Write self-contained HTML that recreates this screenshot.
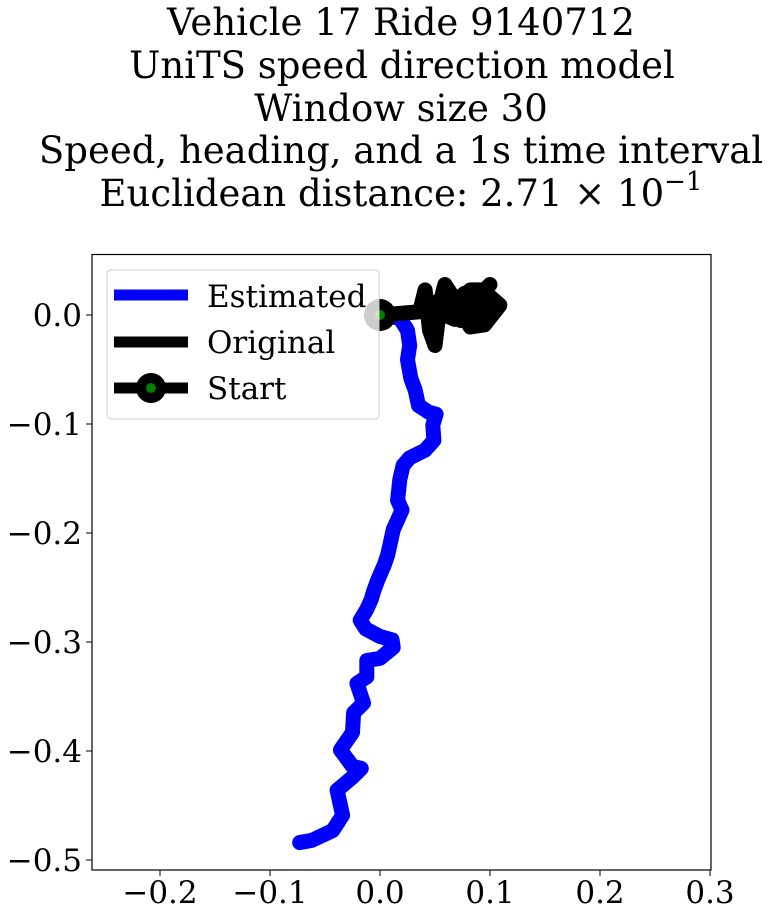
<!DOCTYPE html>
<html><head><meta charset="utf-8"><style>
body{margin:0;background:#fff;}
svg{display:block;font-family:"DejaVu Serif","Liberation Serif",serif;}
</style></head><body>
<svg width="775" height="917" viewBox="0 0 775 917">
<g font-size="37" text-anchor="middle" fill="#000">
<text x="401" y="35">Vehicle 17 Ride 9140712</text>
<text x="402" y="78">UniTS speed direction model</text>
<text x="401" y="121">Window size 30</text>
<text x="401" y="163">Speed, heading, and a 1s time interval</text>
<text x="401" y="206">Euclidean distance: 2.71 × 10<tspan font-size="26" dy="-16">−1</tspan></text>
</g>
<g id="plot"></g>
<rect x="92" y="254.5" width="619" height="615.5" fill="none" stroke="#000" stroke-width="1.2"/>
<g id="ticks" font-size="31" fill="#000"></g>
<g>
<rect x="107" y="270" width="272" height="149" rx="4" fill="rgba(255,255,255,0.8)" stroke="#ccc"/>
<g><line x1="114" y1="295" x2="188" y2="295" stroke="#0000ff" stroke-width="11"/><text x="207" y="307" font-size="31">Estimated</text></g>
<g><line x1="114" y1="342" x2="188" y2="342" stroke="#000" stroke-width="11"/><text x="207" y="353" font-size="31">Original</text></g>
<g><line x1="114" y1="388" x2="188" y2="388" stroke="#000" stroke-width="11"/><circle cx="151" cy="388" r="15" fill="#000"/><circle cx="151" cy="388" r="5" fill="#008000"/><text x="207" y="399" font-size="31">Start</text></g>
</g>
<script>
const xTicks=[-0.2,-0.1,0.0,0.1,0.2,0.3];
const yTicks=[0.0,-0.1,-0.2,-0.3,-0.4,-0.5];
const estX=[0,0.018,0.025,0.027,0.025,0.028,0.032,0.035,0.044,0.051,0.048,0.049,0.041,0.027,0.021,0.018,0.016,0.020,0.016,0.012,0.009,0.007,0.004,-0.002,-0.006,-0.008,-0.012,-0.018,-0.013,0.000,0.011,0.012,0.000,-0.012,-0.012,-0.021,-0.015,-0.024,-0.025,-0.036,-0.025,-0.017,-0.025,-0.039,-0.034,-0.043,-0.062,-0.073];
const estY=[0,-0.003,-0.014,-0.028,-0.041,-0.058,-0.069,-0.083,-0.089,-0.091,-0.101,-0.115,-0.124,-0.131,-0.138,-0.151,-0.170,-0.179,-0.188,-0.197,-0.211,-0.220,-0.229,-0.243,-0.254,-0.261,-0.270,-0.280,-0.288,-0.295,-0.298,-0.305,-0.315,-0.317,-0.332,-0.338,-0.356,-0.365,-0.383,-0.399,-0.414,-0.416,-0.424,-0.436,-0.459,-0.473,-0.482,-0.484];
const origX=[0,0.036,0.041,0.045,0.050,0.055,0.059,0.068,0.073,0.082,0.091,0.100,0.109,0.095,0.082,0.073,0.086,0.100,0.086,0.068,0.059,0.045,0.064,0.077,0.091,0.095,0.077,0.059];
const origY=[0,0.003,0.023,-0.014,-0.028,0.013,0.028,0.014,-0.005,0.023,0.023,0.017,0.009,-0.009,-0.011,0.005,0.009,0.028,0.014,-0.004,0.000,0.009,0.018,0.011,-0.005,0.010,0.020,0.005];
const NS='http://www.w3.org/2000/svg';
const X=v=>380+v*1100, Y=v=>315-v*1090;
const plot=document.getElementById('plot'), ticks=document.getElementById('ticks');
function mk(tag,attrs,parent){const e=document.createElementNS(NS,tag);for(const k in attrs)e.setAttribute(k,attrs[k]);parent.appendChild(e);return e;}
function poly(xs,ys,col,name){const p=mk('polyline',{points:xs.map((x,i)=>X(x)+','+Y(ys[i])).join(' '),fill:'none',stroke:col,'stroke-width':15,'stroke-linejoin':'round','stroke-linecap':'round'},plot);


}
poly(estX,estY,'#0000ff','estimated-path');
poly(origX,origY,'#000','original-path');
const m=mk('g',{},plot);


mk('circle',{cx:X(0),cy:Y(0),r:16,fill:'#000'},m);
mk('circle',{cx:X(0),cy:Y(0),r:5,fill:'#008000'},m);
const fmt=v=>(v<0?'\u2212':'')+Math.abs(v).toFixed(1);
xTicks.forEach(v=>{const g=mk('g',{},ticks);


mk('line',{x1:X(v),y1:870,x2:X(v),y2:876,stroke:'#000'},g);
const t=mk('text',{x:X(v),y:903,'text-anchor':'middle'},g);t.textContent=fmt(v);});
yTicks.forEach(v=>{const g=mk('g',{},ticks);


mk('line',{x1:86,y1:Y(v),x2:92,y2:Y(v),stroke:'#000'},g);
const t=mk('text',{x:82,y:Y(v)+11,'text-anchor':'end'},g);t.textContent=fmt(v);});
</script>
</svg>
</body></html>
